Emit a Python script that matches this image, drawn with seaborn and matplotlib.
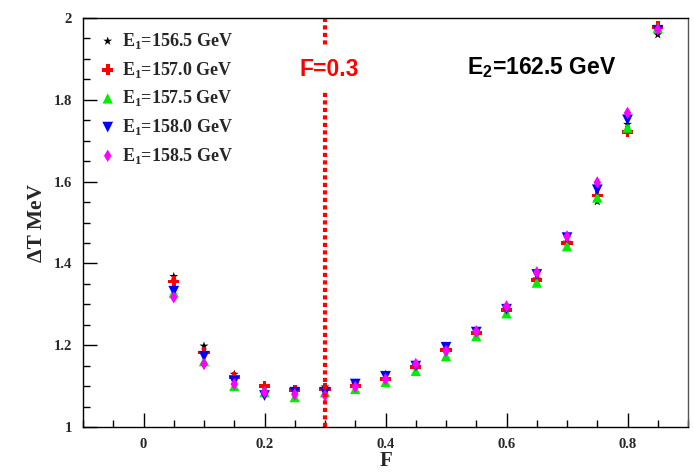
import matplotlib
matplotlib.use("Agg")
import matplotlib.pyplot as plt
import seaborn as sns
import numpy as np
import pandas as pd
from matplotlib.ticker import MultipleLocator

sns.set_style("ticks")
plt.rcParams['font.family'] = ['Liberation Serif', 'DejaVu Serif']
plt.rcParams['mathtext.fontset'] = 'custom'
plt.rcParams['mathtext.bf'] = 'Liberation Serif:bold'
plt.rcParams['mathtext.rm'] = 'Liberation Serif:bold'
plt.rcParams['mathtext.sf'] = 'Liberation Sans:bold'

F = [0.05, 0.10, 0.15, 0.20, 0.25, 0.30, 0.35, 0.40, 0.45, 0.50,
     0.55, 0.60, 0.65, 0.70, 0.75, 0.80, 0.85]

dT_1565 = [1.368, 1.198, 1.129, 1.095, 1.092, 1.098, 1.105, 1.129, 1.150, 1.190,
           1.230, 1.288, 1.362, 1.452, 1.551, 1.740, 1.959]
dT_1570 = [1.356, 1.182, 1.122, 1.100, 1.090, 1.093, 1.100, 1.117, 1.146, 1.188,
           1.229, 1.286, 1.359, 1.449, 1.566, 1.722, 1.978]
dT_1575 = [1.329, 1.161, 1.100, 1.085, 1.073, 1.085, 1.093, 1.110, 1.137, 1.173,
           1.222, 1.278, 1.353, 1.442, 1.561, 1.732, 1.976]
dT_1580 = [1.332, 1.173, 1.112, 1.077, 1.085, 1.085, 1.105, 1.124, 1.149, 1.195,
           1.232, 1.288, 1.373, 1.463, 1.580, 1.751, 1.970]
dT_1585 = [1.317, 1.154, 1.105, 1.085, 1.080, 1.077, 1.098, 1.117, 1.154, 1.186,
           1.234, 1.295, 1.378, 1.466, 1.598, 1.768, 1.972]

labels = ["156.5", "157.0", "157.5", "158.0", "158.5"]
series = [dT_1565, dT_1570, dT_1575, dT_1580, dT_1585]
colors = ["black", "#ff0000", "#00ee00", "#0000ff", "#ff00ff"]
markers = ["*", "P", "^", "v", "d"]
sizes = [45, 65, 55, 60, 40]

fig = plt.figure(figsize=(6.94, 4.72), dpi=100)
ax = fig.add_axes([0.1196, 0.0953, 0.8718, 0.8666])

for lab, vals, c, m, s in zip(labels, series, colors, markers, sizes):
    df = pd.DataFrame({"F": F, "dT": vals})
    sns.scatterplot(data=df, x="F", y="dT", ax=ax, color=c, marker=m, s=s,
                    edgecolor="none", linewidth=0,
                    label=r"E$_{\mathbf{1}}$=" + lab + " GeV")

ax.set_xlim(-0.1, 0.9)
ax.set_ylim(1.0, 2.0)
ax.xaxis.set_minor_locator(MultipleLocator(0.05))
ax.yaxis.set_minor_locator(MultipleLocator(0.05))
ax.set_xticks([0, 0.2, 0.4, 0.6, 0.8])
ax.set_xticklabels(["0", "0.2", "0.4", "0.6", "0.8"])
ax.set_yticks([1, 1.2, 1.4, 1.6, 1.8, 2])
ax.set_yticklabels(["1", "1.2", "1.4", "1.6", "1.8", "2"])
ax.tick_params(which="major", direction="in", length=10, width=1, color="black",
               labelsize=10.5, pad=8)
ax.tick_params(which="minor", direction="in", length=5, width=1, color="black")
ax.tick_params(top=False, right=False, which="both")
for lbl in ax.get_xticklabels() + ax.get_yticklabels():
    lbl.set_fontweight("bold")
for sp in ax.spines.values():
    sp.set_linewidth(1.0)
    sp.set_color("black")
ax.spines["right"].set_color("#555555")

ax.set_xlabel("F", fontsize=15, fontweight="bold", labelpad=0)
ax.set_ylabel("ΔT MeV", fontsize=15.5, fontweight="bold", labelpad=5)

ax.axvline(0.3, color="#ff0000", linewidth=3, linestyle=(0, (1, 0.8)), zorder=1)
ax.text(0.307, 0.873, "F=0.3", transform=ax.get_xaxis_transform(), color="#ff0000",
        fontsize=16.5, fontweight="bold", family="Liberation Sans", ha="center",
        va="center", bbox=dict(facecolor="white", edgecolor="none", pad=8), zorder=3)
ax.text(0.658, 0.878, r"E$_{\mathsf{2}}$=162.5 GeV", transform=ax.get_xaxis_transform(),
        color="black", fontsize=16.5, fontweight="bold", family="Liberation Sans",
        ha="center", va="center")

leg = ax.legend(loc="upper left", bbox_to_anchor=(0.005, 0.995), frameon=False,
                prop={"family": "Liberation Serif", "weight": "bold", "size": 13},
                labelspacing=0.48, handletextpad=0.2, borderaxespad=0.2,
                handlelength=1.2)

fig.savefig("out.png", dpi=100, facecolor="white")
